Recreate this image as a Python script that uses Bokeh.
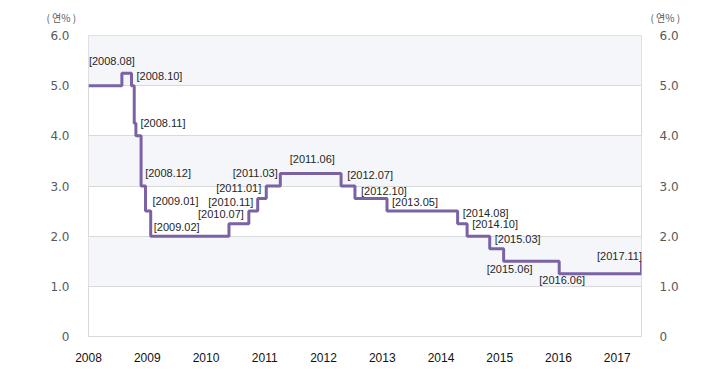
import pandas as pd
from bokeh.plotting import figure
from bokeh.layouts import column
from bokeh.models import (ColumnDataSource, Range1d, LinearAxis, FixedTicker, LabelSet)
from bokeh.core.properties import value
from bokeh.embed import file_html
from bokeh.resources import INLINE

# ---- data: Bank of Korea base rate (change dates and new rate, %) ----
change_dates = ["2008-01-01", "2008-08-07", "2008-10-09", "2008-10-27", "2008-11-07",
                "2008-12-11", "2009-01-09", "2009-02-12", "2010-07-09", "2010-11-16",
                "2011-01-13", "2011-03-10", "2011-06-10", "2012-07-12", "2012-10-11",
                "2013-05-09", "2014-08-14", "2014-10-15", "2015-03-12", "2015-06-11",
                "2016-06-09", "2017-11-30"]
rates = [5.00, 5.25, 5.00, 4.25, 4.00, 3.00, 2.50, 2.00, 2.25, 2.50, 2.75, 3.00,
         3.25, 3.00, 2.75, 2.50, 2.25, 2.00, 1.75, 1.50, 1.25, 1.50]

label_dates = ["2008-08-07", "2008-10-09", "2008-11-07", "2008-12-11", "2009-01-09",
               "2009-02-12", "2010-07-09", "2010-11-16", "2011-01-13", "2011-03-10",
               "2011-06-10", "2012-07-12", "2012-10-11", "2013-05-09", "2014-08-14",
               "2014-10-15", "2015-03-12", "2015-06-11", "2016-06-09", "2017-11-30"]
label_texts = ["[2008.08]", "[2008.10]", "[2008.11]", "[2008.12]", "[2009.01]",
               "[2009.02]", "[2010.07]", "[2010.11]", "[2011.01]", "[2011.03]",
               "[2011.06]", "[2012.07]", "[2012.10]", "[2013.05]", "[2014.08]",
               "[2014.10]", "[2015.03]", "[2015.06]", "[2016.06]", "[2017.11]"]

year_labels = ["2008", "2009", "2010", "2011", "2012", "2013", "2014", "2015", "2016", "2017"]
y_ticks = [0, 1, 2, 3, 4, 5, 6]
unit_label = "( 연% )"

# ---- layout / placement constants ----
label_dx = [-10, 28, 27, 27, 30, 26, -8, -18, -19, -11, 32, 29, 29, 28, 28, 28, 28, 6, 3, -22]
label_dy = [12, 10, 13, 13, 10, 9, 10, 9, 11, 13, 14, 11, 8, 9, 11, 12, 10, -8, -6, 5]
year_label_step = 1.053  # spacing of the year labels along the axis
W = 709
HEAD_H = 27              # strip above the chart holding the unit labels
MAIN_H = 356
BL, BR, BT, BB = 88, 68, 8, 47
unit_x = [46, 650]       # left edges of the two unit labels (px)
unit_y = 10              # vertical centre of unit labels, px from strip bottom


def frac_year(d):
    ts = pd.Timestamp(d)
    n = 366 if ts.is_leap_year else 365
    return ts.year + (ts.dayofyear - 1) / n


xs = [frac_year(d) for d in change_dates]
rate_at = dict(zip(change_dates, rates))
lx = [frac_year(d) for d in label_dates]
ly = [rate_at[d] for d in label_dates]
x0, x1 = xs[0], xs[-1]

# ---- head strip with the unit labels ----
head = figure(width=W, height=HEAD_H, output_backend="svg", toolbar_location=None,
              x_range=Range1d(0, W), y_range=Range1d(0, HEAD_H),
              x_axis_location=None, y_axis_location=None,
              min_border=0, min_border_left=0, min_border_right=0,
              min_border_top=0, min_border_bottom=0)
head.frame_align = False
head.outline_line_color = None
head.grid.visible = False
head.background_fill_color = "white"
head.border_fill_color = "white"
head.text(x=unit_x, y=[unit_y] * len(unit_x), text=[unit_label] * len(unit_x),
          text_font=value("Noto Sans CJK KR"), text_font_size=value("10px"),
          text_color="#595959", text_baseline="middle", text_align="left")

# ---- main chart ----
p = figure(width=W, height=MAIN_H, output_backend="svg", toolbar_location=None,
           x_range=Range1d(x0, x1), y_range=Range1d(0, 6),
           min_border_left=BL, min_border_right=BR, min_border_top=BT,
           min_border_bottom=BB)
p.frame_align = False
p.background_fill_color = "white"
p.border_fill_color = "white"
p.outline_line_color = "#d9d9d9"
p.outline_line_width = 1

# grid + alternate bands
p.xgrid.grid_line_color = None
p.ygrid.ticker = FixedTicker(ticks=y_ticks)
p.ygrid.grid_line_color = "#d9d9d9"
p.ygrid.grid_line_width = 1
p.ygrid.band_fill_color = "#f5f6fa"
p.ygrid.band_fill_alpha = 1.0

# x axis
xt = [round(x0 + i * year_label_step, 4) for i in range(len(year_labels))]
p.xaxis.ticker = FixedTicker(ticks=xt)
p.xaxis.major_label_overrides = {t: lab for t, lab in zip(xt, year_labels)}
p.xaxis.axis_line_color = None
p.xaxis.major_tick_line_color = None
p.xaxis.minor_tick_line_color = None
p.xaxis.major_label_standoff = 10
p.xaxis.major_label_text_font = "Liberation Sans"
p.xaxis.major_label_text_font_size = "12px"
p.xaxis.major_label_text_color = "#111111"


def style_y(ax, standoff):
    ax.ticker = FixedTicker(ticks=y_ticks)
    ax.major_label_overrides = {t: ("0" if t == 0 else f"{t:.1f}") for t in y_ticks}
    ax.axis_line_color = None
    ax.major_tick_line_color = None
    ax.minor_tick_line_color = None
    ax.major_label_standoff = standoff
    ax.major_label_text_font = "DejaVu Sans"
    ax.major_label_text_font_size = "12px"
    ax.major_label_text_color = "#595959"


style_y(p.yaxis[0], 13)
right_axis = LinearAxis()
p.add_layout(right_axis, "right")
style_y(right_axis, 12)

# rate line
src = ColumnDataSource(data=dict(x=xs, y=rates))
p.step("x", "y", source=src, mode="after", line_color="#7b62a5", line_width=3)

# event labels
lsrc = ColumnDataSource(data=dict(x=lx, y=ly, text=label_texts, dx=label_dx, dy=label_dy))
p.add_layout(LabelSet(x="x", y="y", text="text", x_offset="dx", y_offset="dy", source=lsrc,
                      text_font=value("Liberation Sans"), text_font_size=value("11px"),
                      text_color=value("#262626"), text_align="center",
                      text_baseline="middle"))

layout = column(head, p, spacing=0)
open("out.html", "w").write(file_html(layout, INLINE))
